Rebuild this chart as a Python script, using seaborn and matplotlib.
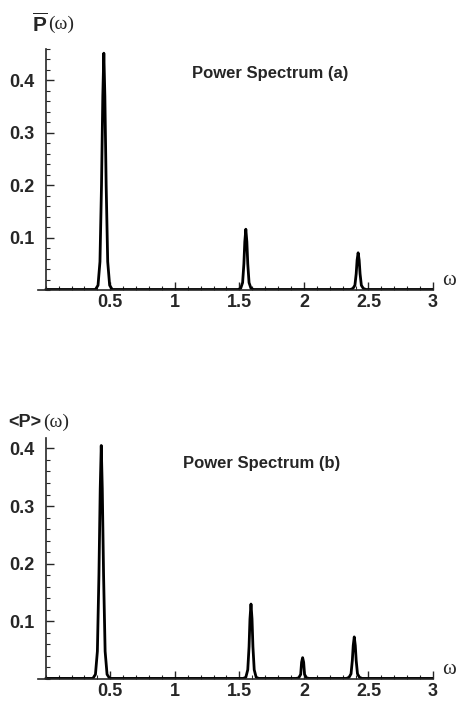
import matplotlib
matplotlib.use("Agg")
import matplotlib.pyplot as plt
import seaborn as sns
from matplotlib.ticker import MultipleLocator, FixedLocator

# Power spectrum (a): frequency / power
omega_a = [0.0,
           0.385, 0.405, 0.42, 0.432, 0.442, 0.45, 0.458, 0.468, 0.48, 0.495, 0.515,
           1.49, 1.51, 1.525, 1.535, 1.542, 1.55, 1.558, 1.565, 1.575, 1.59, 1.61,
           2.36, 2.38, 2.395, 2.405, 2.412, 2.42, 2.428, 2.435, 2.445, 2.46, 2.48,
           3.0]
power_a = [0.001,
           0.001, 0.009, 0.054, 0.20, 0.37, 0.452, 0.37, 0.20, 0.054, 0.009, 0.001,
           0.001, 0.003, 0.014, 0.05, 0.092, 0.116, 0.092, 0.05, 0.014, 0.003, 0.001,
           0.001, 0.003, 0.009, 0.031, 0.057, 0.071, 0.057, 0.031, 0.009, 0.003, 0.001,
           0.001]

# Power spectrum (b)
omega_b = [0.0,
           0.365, 0.385, 0.40, 0.412, 0.422, 0.43, 0.438, 0.448, 0.46, 0.475, 0.495,
           1.53, 1.55, 1.565, 1.575, 1.582, 1.59, 1.598, 1.605, 1.615, 1.63, 1.65,
           1.94, 1.96, 1.975, 1.982, 1.99, 1.998, 2.005, 2.02, 2.04,
           2.33, 2.35, 2.365, 2.375, 2.382, 2.39, 2.398, 2.405, 2.415, 2.43, 2.45,
           3.0]
power_b = [0.001,
           0.001, 0.008, 0.048, 0.18, 0.33, 0.405, 0.33, 0.18, 0.048, 0.008, 0.001,
           0.001, 0.003, 0.016, 0.056, 0.104, 0.13, 0.104, 0.056, 0.016, 0.003, 0.001,
           0.001, 0.002, 0.008, 0.029, 0.037, 0.029, 0.008, 0.002, 0.001,
           0.001, 0.003, 0.009, 0.032, 0.058, 0.073, 0.058, 0.032, 0.009, 0.003, 0.001,
           0.001]

x_ticks = [0.5, 1, 1.5, 2, 2.5, 3]
x_tick_labels = ["0.5", "1", "1.5", "2", "2.5", "3"]
y_ticks = [0.1, 0.2, 0.3, 0.4]
y_tick_labels = ["0.1", "0.2", "0.3", "0.4"]

sns.set_style("ticks")
plt.rcParams["font.family"] = ["Liberation Sans", "DejaVu Sans"]
plt.rcParams["mathtext.fontset"] = "custom"
plt.rcParams["mathtext.bf"] = "Liberation Sans:bold"
plt.rcParams["mathtext.rm"] = "Liberation Sans"

W, H = 461, 702
fig = plt.figure(figsize=(W / 100, H / 100), dpi=100)


def px_axes(left, top, right, bottom):
    return fig.add_axes([left / W, 1 - bottom / H, (right - left) / W, (bottom - top) / H])


def style_axes(ax, ytop):
    ax.set_xlim(-0.06, 3.0)
    ax.set_ylim(0, ytop)
    for side in ("top", "right"):
        ax.spines[side].set_visible(False)
    ax.spines["left"].set_position(("data", 0))
    ax.spines["bottom"].set_position(("data", 0))
    ax.spines["left"].set_linewidth(1.2)
    ax.spines["bottom"].set_linewidth(1.2)
    ax.xaxis.set_major_locator(FixedLocator(x_ticks))
    ax.set_xticklabels(x_tick_labels)
    ax.yaxis.set_major_locator(FixedLocator(y_ticks))
    ax.set_yticklabels(y_tick_labels)
    ax.xaxis.set_minor_locator(MultipleLocator(0.1))
    ax.yaxis.set_minor_locator(MultipleLocator(0.02))
    ax.tick_params(which="major", direction="in", length=6, width=1.0, labelsize=13)
    ax.tick_params(which="minor", direction="in", length=3, width=0.8)
    ax.tick_params(axis="x", pad=3)
    ax.tick_params(axis="y", pad=8)
    for lab in ax.get_xticklabels() + ax.get_yticklabels():
        lab.set_fontweight("bold")
    ax.set_xlabel("")
    ax.set_ylabel("")
    ax.patch.set_alpha(0)


ax_a = px_axes(38, 49, 433, 290)
sns.lineplot(x=omega_a, y=power_a, ax=ax_a, color="black", linewidth=2.0, estimator=None)
style_axes(ax_a, 0.46)
ax_a.text(1.74, 0.414, "Power Spectrum (a)", ha="center", va="center",
          fontsize=12, fontweight="bold")

ax_b = px_axes(38, 438, 433, 679)
sns.lineplot(x=omega_b, y=power_b, ax=ax_b, color="black", linewidth=2.0, estimator=None)
style_axes(ax_b, 0.418)
ax_b.text(1.67, 0.374, "Power Spectrum (b)", ha="center", va="center",
          fontsize=12, fontweight="bold")


# axis labels (placed in pixel coordinates)
def ftext(x, y, s, **kw):
    fig.text(x / W, 1 - y / H, s, **kw)


ftext(32, 24, r"$\overline{\mathbf{P}}$", fontsize=15, ha="left", va="center")
ftext(48, 24, "(ω)", fontsize=14, family="Liberation Serif", ha="left", va="center")
ftext(449, 280, "ω", fontsize=15, family="Liberation Serif", ha="center", va="center")

ftext(8, 422, "<P>", fontsize=13, fontweight="bold", ha="left", va="center")
ftext(43, 422, "(ω)", fontsize=14, family="Liberation Serif", ha="left", va="center")
ftext(449, 670, "ω", fontsize=15, family="Liberation Serif", ha="center", va="center")

fig.savefig("out.png", dpi=100, facecolor="white")
